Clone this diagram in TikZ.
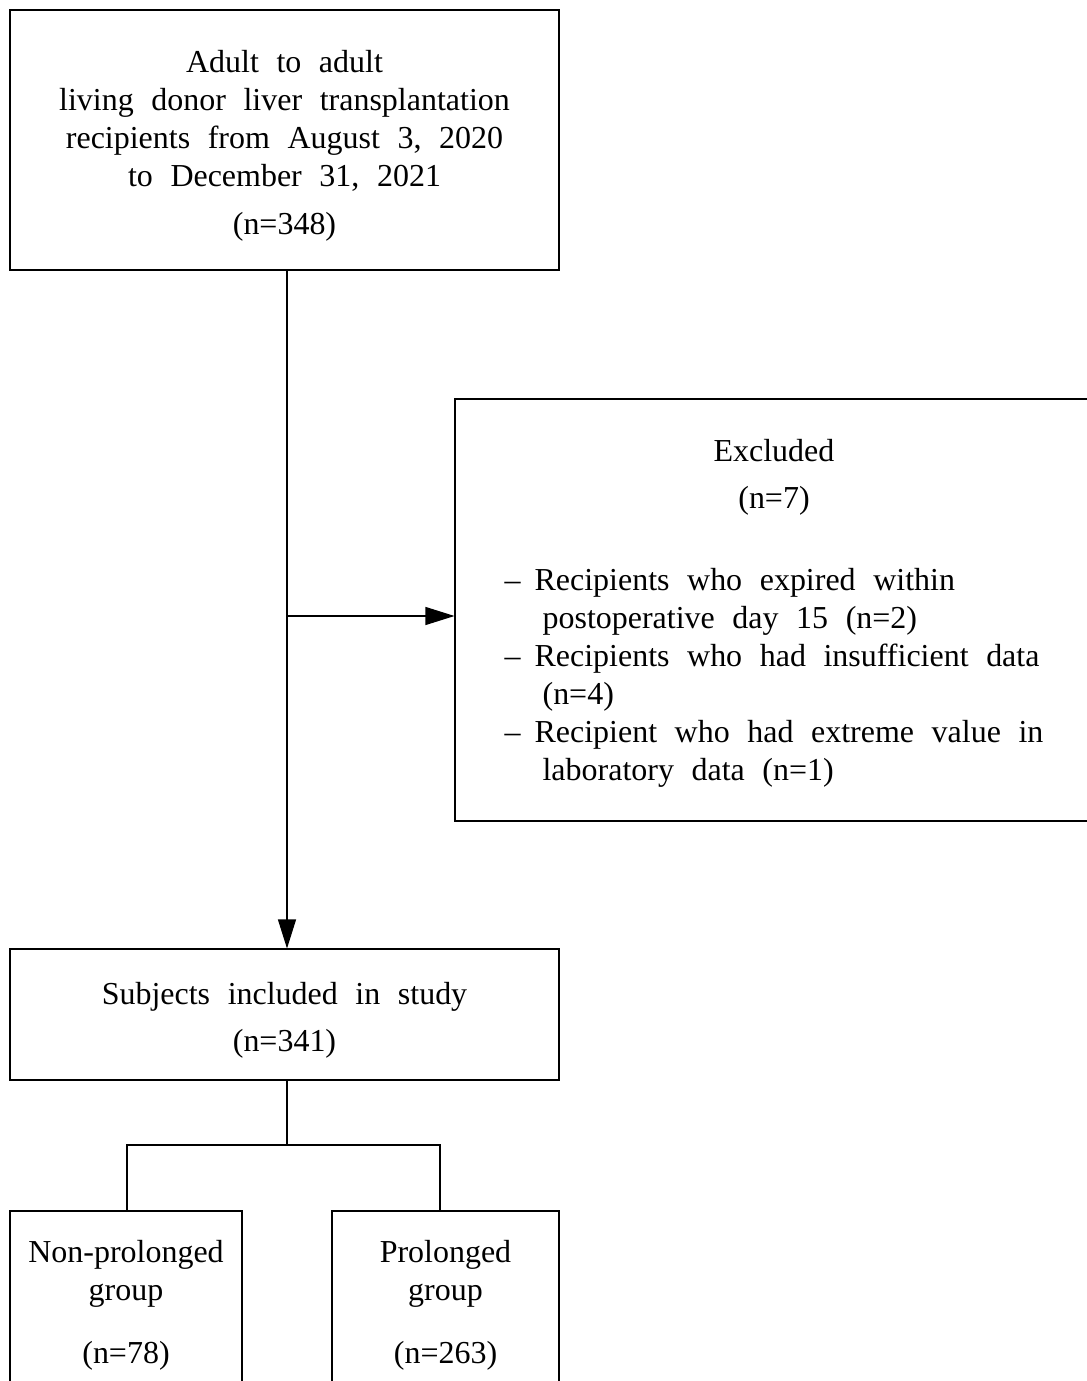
\documentclass[tikz,border=0pt]{standalone}
\usepackage{fontspec}
\setmainfont{Liberation Serif}[WordSpace=2.2]
\usepackage{tikz}
\usetikzlibrary{arrows.meta,positioning,calc}

% strut that lowers the centred text block a little
\newcommand{\firststrut}{\rule{0pt}{0.67cm}}

\begin{document}
\begin{tikzpicture}[
  x=0.02cm, y=-0.02cm,
  font=\fontsize{18.2}{21.6}\selectfont,
  flowbox/.style={
    draw=black,
    line width=0.6pt,
    align=center,
    inner sep=0pt
  },
  link/.style={line width=0.6pt, draw=black},
  flow/.style={-{Triangle[length=5.8mm, width=3.6mm]}, line width=0.6pt, draw=black}
]

% The page is the reference frame; the excluded box and the two group boxes run past it.
\useasboundingbox (0,0) rectangle (1087,1381);
\clip (0,0) rectangle (1087,1381);

\node[flowbox, minimum width=549*0.02cm, minimum height=260*0.02cm]
  (cohort) at (284.5,140)
  {\firststrut Adult to adult\\
   living donor liver transplantation\\
   recipients from August 3, 2020\\
   to December 31, 2021\\[0.2cm]
   (n=348)};

\node[flowbox, minimum width=638*0.02cm, minimum height=422*0.02cm]
  (excluded) at (774,610)
  {\firststrut Excluded\\[0.18cm]
   (n=7)\\[0.95cm]
   \begin{tabular}{@{}l@{\hspace{0.28cm}}l@{}}
   -- & Recipients who expired within\\
      & \hspace{0.16cm}postoperative day 15 (n=2)\\
   -- & Recipients who had insufficient data\\
      & \hspace{0.16cm}(n=4)\\
   -- & Recipient who had extreme value in\\
      & \hspace{0.16cm}laboratory data (n=1)
   \end{tabular}};

\node[flowbox, minimum width=549*0.02cm, minimum height=131*0.02cm]
  (included) at (284.5,1014.5)
  {\firststrut Subjects included in study\\[0.18cm]
   (n=341)};

\node[flowbox, minimum width=232*0.02cm, minimum height=178*0.02cm]
  (nonprolonged) at (126,1300)
  {\firststrut Non-prolonged\\
   group\\[0.5cm]
   (n=78)};

\node[flowbox, minimum width=227*0.02cm, minimum height=178*0.02cm]
  (prolonged) at (445.5,1300)
  {\firststrut Prolonged\\
   group\\[0.5cm]
   (n=263)};

% branch points on the connectors
\coordinate (trunktop) at ([xshift=0.05cm]cohort.south);
\coordinate (trunkend) at ([xshift=0.05cm]included.north);
\coordinate (exclude) at (trunktop |- 0,616);
\coordinate (fork) at ([xshift=0.05cm]included.south |- 0,1145);

\draw[flow] (trunktop) -- (trunkend);
\draw[flow] (exclude) -- (exclude -| excluded.west);

\draw[link] ([xshift=0.05cm]included.south) -- (fork);
\draw[link] ([xshift=0.02cm]nonprolonged.north) |- (fork) -| ([xshift=-0.11cm]prolonged.north);

\end{tikzpicture}
\end{document}
